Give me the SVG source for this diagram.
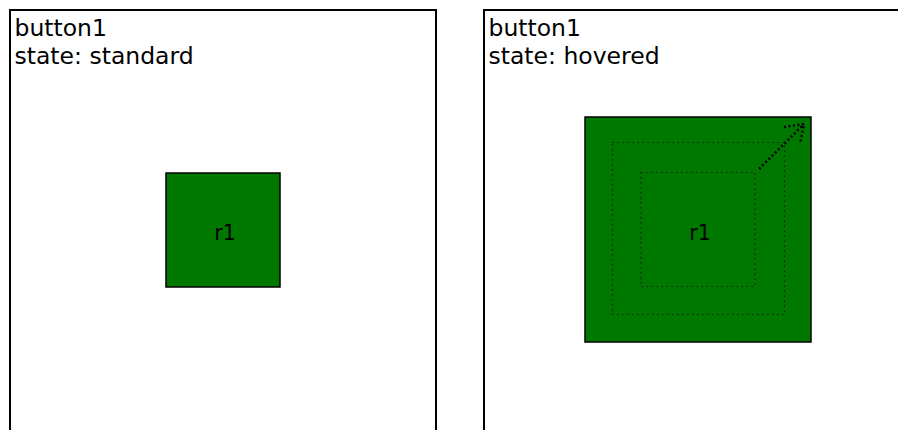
<svg xmlns="http://www.w3.org/2000/svg" width="898" height="430" viewBox="0 0 898 430">
  <defs>
    <style>
      .frame { fill: #ffffff; stroke: #000000; stroke-width: 2; }
      .label { font-family: "DejaVu Sans", sans-serif; font-size: 23.5px; fill: #000000; }
      .box { fill: #007800; stroke: #000000; stroke-width: 1.5; }
      .name { font-family: "DejaVu Sans", sans-serif; font-size: 20.5px; fill: #000000; text-anchor: middle; }
      .guide { fill: none; stroke: #1a1a1a; stroke-width: 1.2; stroke-dasharray: 1.5 3.5; }
      .grow { fill: none; stroke: #000000; stroke-width: 2.5; stroke-dasharray: 2 2.5; stroke-linecap: butt; }
    </style>
  </defs>

  <!-- standard state -->
  <g id="button1-standard">
    <rect class="frame" x="10" y="10" width="426" height="440"/>
    <text class="label" x="14.5" y="36">button1</text>
    <text class="label" x="14.5" y="64">state: standard</text>
  </g>
  <g id="r1-standard">
    <rect class="box" x="166" y="173" width="114" height="114"/>
    <text class="name" x="225" y="240">r1</text>
  </g>

  <!-- hovered state -->
  <g id="button1-hovered">
    <rect class="frame" x="484" y="10" width="426" height="440"/>
    <text class="label" x="488.5" y="36">button1</text>
    <text class="label" x="488.5" y="64">state: hovered</text>
  </g>
  <g id="r1-hovered">
    <rect class="box" x="585" y="117" width="226" height="225"/>
    <rect class="guide" x="641" y="172.5" width="114" height="114"/>
    <rect class="guide" x="612.5" y="142.5" width="172" height="172"/>
    <text class="name" x="700" y="240">r1</text>
  </g>

  <!-- growth indicator -->
  <g id="connectors">
    <path class="grow" d="M759 169 L804 124 M784 127 L804 124 L800 144"/>
  </g>
</svg>
